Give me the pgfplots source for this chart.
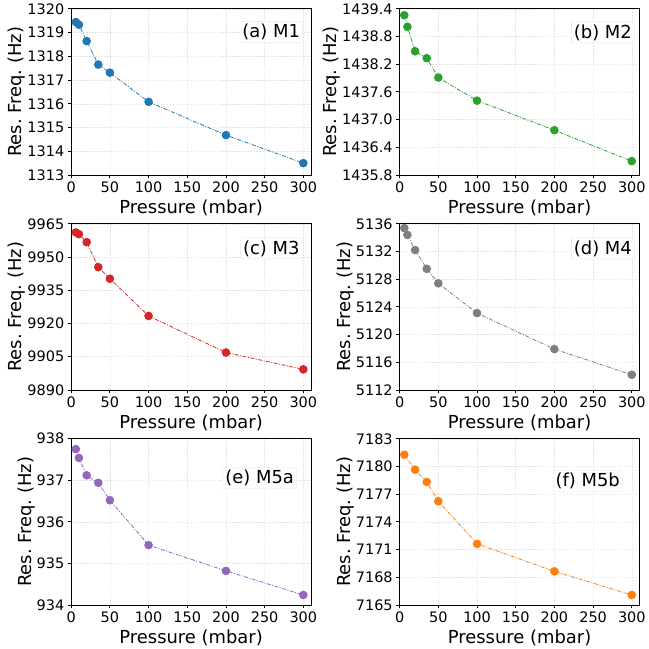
\documentclass[border=0pt]{standalone}
\usepackage{fontspec}
\setmainfont{DejaVu Sans}
\usepackage{pgfplots}
\pgfplotsset{compat=1.18}
\usepgfplotslibrary{groupplots}

\definecolor{tabblue}{HTML}{1F77B4}
\definecolor{tabgreen}{HTML}{2CA02C}
\definecolor{tabred}{HTML}{D62728}
\definecolor{tabgray}{HTML}{7F7F7F}
\definecolor{tabpurple}{HTML}{9467BD}
\definecolor{taborange}{HTML}{FF7F0E}

\tikzset{
  tag/.style={fill=white, fill opacity=0.8, text opacity=1, draw=gray!20,
    rounded corners=1pt, inner sep=2.5pt, font=\fontsize{18}{20}\selectfont},
}

\pgfplotsset{
  resfreq/.style={
    width=241pt, height=167pt, scale only axis,
    xmin=0, xmax=310, xtick={0,50,...,300},
    grid=major,
    grid style={gray!22, dash pattern=on 1.5pt off 1.5pt, line width=0.5pt},
    axis line style={line width=0.8pt},
    tick align=outside, tick pos=left, major tick length=3.5pt,
    tick style={black, line width=0.8pt},
    ticklabel style={font=\fontsize{14.5}{16}\selectfont},
    label style={font=\fontsize{18}{20}\selectfont},
    xlabel={Pressure (mbar)}, ylabel={Res.\ Freq.\ (Hz)},
    xlabel style={yshift=0pt},
    ylabel style={yshift=-5pt},
    /pgf/number format/assume math mode=true,
    /pgf/number format/1000 sep={},
    scaled y ticks=false,
    clip mode=individual,
  },
  curve/.style={#1, line width=0.8pt,
    dash pattern=on 4pt off 1.5pt on 1pt off 1.5pt,
    mark=*, mark size=3.9pt, mark options={solid, fill=#1, draw=#1}},
}

\begin{document}
\begin{tikzpicture}
\begin{groupplot}[
  group style={group size=2 by 3, horizontal sep=89pt, vertical sep=49pt},
  resfreq,
]
% (a) M1
\nextgroupplot[ymin=1313, ymax=1320, ytick={1313,1314,...,1320}]
\addplot[curve=tabblue] coordinates {
  (6,1319.44) (10,1319.33) (20,1318.64) (35,1317.65) (50,1317.31)
  (100,1316.08) (200,1314.68) (300,1313.50)};
\node[tag, anchor=north east] at (rel axis cs:0.965,0.925) {(a) M1};

% (b) M2
\nextgroupplot[ymin=1435.8, ymax=1439.4,
  ytick={1435.8,1436.4,1437.0,1437.6,1438.2,1438.8,1439.4},
  yticklabel style={/pgf/number format/fixed, /pgf/number format/fixed zerofill,
    /pgf/number format/precision=1}]
\addplot[curve=tabgreen] coordinates {
  (6,1439.26) (10,1439.01) (20,1438.48) (35,1438.33) (50,1437.91)
  (100,1437.41) (200,1436.77) (300,1436.10)};
\node[tag, anchor=north east] at (rel axis cs:0.979,0.922) {(b) M2};

% (c) M3
\nextgroupplot[ymin=9890, ymax=9965, ytick={9890,9905,...,9965}]
\addplot[curve=tabred] coordinates {
  (6,9961.1) (10,9960.3) (20,9956.7) (35,9945.4) (50,9940.2)
  (100,9923.4) (200,9906.9) (300,9899.3)};
\node[tag, anchor=north east] at (rel axis cs:0.963,0.916) {(c) M3};

% (d) M4
\nextgroupplot[ymin=5112, ymax=5136, ytick={5112,5116,...,5136}]
\addplot[curve=tabgray] coordinates {
  (6,5135.38) (10,5134.4) (20,5132.2) (35,5129.5) (50,5127.4)
  (100,5123.1) (200,5117.9) (300,5114.2)};
\node[tag, anchor=north east] at (rel axis cs:0.979,0.916) {(d) M4};

% (e) M5a
\nextgroupplot[ymin=934, ymax=938, ytick={934,935,...,938}]
\addplot[curve=tabpurple] coordinates {
  (6,937.75) (10,937.54) (20,937.12) (35,936.94) (50,936.52)
  (100,935.44) (200,934.82) (300,934.24)};
\node[tag, anchor=north east] at (rel axis cs:0.94,0.826) {(e) M5a};

% (f) M5b
\nextgroupplot[ymin=7165, ymax=7183, ytick={7165,7168,...,7183}]
\addplot[curve=taborange] coordinates {
  (6,7181.27) (20,7179.65) (35,7178.32) (50,7176.23)
  (100,7171.62) (200,7168.64) (300,7166.08)};
\node[tag, anchor=north east] at (rel axis cs:0.929,0.81) {(f) M5b};
\end{groupplot}
% a little white space on the left, as in the original figure
\path ([xshift=-5pt]current bounding box.west);
\end{tikzpicture}
\end{document}
